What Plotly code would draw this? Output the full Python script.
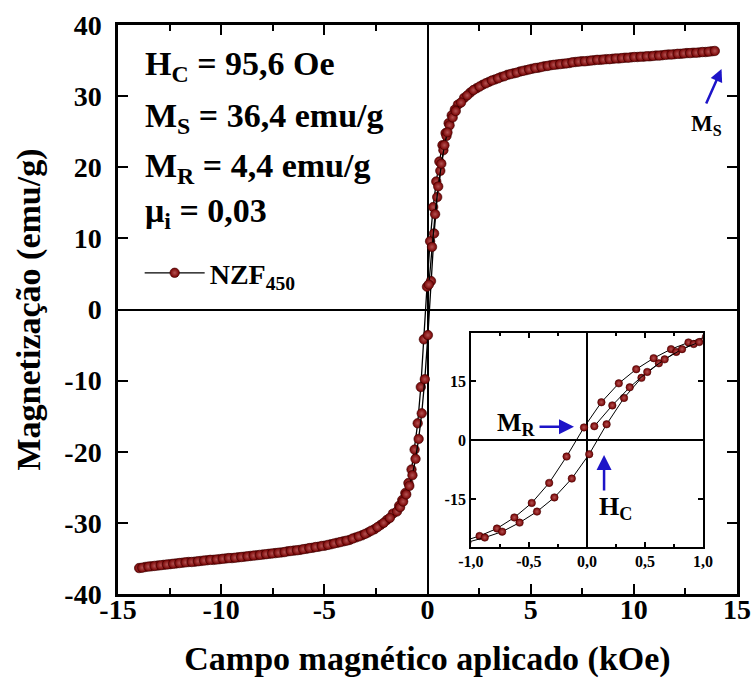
import plotly.graph_objects as go

# Hysteresis loop of NZF450: descending branch (+H -> -H), ascending branch (-H -> +H)
# and the first points of the initial magnetization curve.  Field in kOe, M in emu/g.
field_desc = [
    13.775, 13.475, 13.175, 12.875, 12.575, 12.275, 11.975, 11.675, 11.375, 11.075,
    10.775, 10.475, 10.175, 9.875, 9.575, 9.275, 8.975, 8.675, 8.375, 8.075,
    7.775, 7.475, 7.175, 6.875, 6.575, 6.275, 5.975, 5.675, 5.375, 5.075,
    4.775, 4.475, 4.175, 3.875, 3.575, 3.275, 2.975, 2.675, 2.375, 2.075, 1.775,
    1.475, 1.325, 1.175, 1.025, 0.875, 0.725, 0.575, 0.425, 0.275, 0.125,
    -0.025, -0.175, -0.325, -0.475, -0.625, -0.775, -0.925, -1.075, -1.225, -1.375,
    -1.675, -1.975, -2.275, -2.575, -2.875, -3.175, -3.475, -3.775, -4.075, -4.375,
    -4.675, -4.975, -5.275, -5.575, -5.875, -6.175, -6.475, -6.775, -7.075, -7.375,
    -7.675, -7.975, -8.275, -8.575, -8.875, -9.175, -9.475, -9.775, -10.075, -10.375,
    -10.675, -10.975, -11.275, -11.575, -11.875, -12.175, -12.475, -12.775, -13.075,
    -13.375, -13.675, -13.975,
]
magn_desc = [
    36.3, 36.2, 36.15, 36.1, 36.05, 35.95, 35.9, 35.85, 35.75, 35.7,
    35.6, 35.55, 35.5, 35.45, 35.4, 35.3, 35.25, 35.2, 35.1, 35.05,
    34.95, 34.9, 34.8, 34.65, 34.55, 34.45, 34.35, 34.2, 34.0, 33.85,
    33.65, 33.45, 33.2, 33.0, 32.7, 32.35, 32.0, 31.6, 31.1, 30.5, 29.75,
    28.8, 28.1, 27.3, 26.2, 24.8, 23.1, 20.8, 18.0, 14.4, 9.6,
    3.2, -4.2, -10.9, -16.0, -19.7, -22.5, -24.4, -25.8, -26.8, -27.6,
    -28.7, -29.6, -30.3, -30.9, -31.35, -31.75, -32.05, -32.4, -32.6, -32.8,
    -33.0, -33.2, -33.35, -33.5, -33.65, -33.8, -33.9, -34.0, -34.15, -34.25,
    -34.35, -34.45, -34.55, -34.65, -34.75, -34.85, -34.95, -35.0, -35.1, -35.2,
    -35.25, -35.35, -35.45, -35.5, -35.6, -35.7, -35.8, -35.9, -36.0,
    -36.1, -36.2, -36.35,
]
field_asc = [
    -13.825, -13.525, -13.225, -12.925, -12.625, -12.325, -12.025, -11.725, -11.425, -11.125,
    -10.825, -10.525, -10.225, -9.925, -9.625, -9.325, -9.025, -8.725, -8.425, -8.125,
    -7.825, -7.525, -7.225, -6.925, -6.625, -6.325, -6.025, -5.725, -5.425, -5.125,
    -4.825, -4.525, -4.225, -3.925, -3.625, -3.325, -3.025, -2.725, -2.425, -2.125, -1.825,
    -1.48, -1.33, -1.18, -1.03, -0.88, -0.73, -0.58, -0.43, -0.28, -0.13,
    0.02, 0.17, 0.32, 0.47, 0.62, 0.77, 0.92, 1.07, 1.22, 1.37,
    1.625, 1.925, 2.225, 2.525, 2.825, 3.125, 3.425, 3.725, 4.025, 4.325,
    4.625, 4.925, 5.225, 5.525, 5.825, 6.125, 6.425, 6.725, 7.025, 7.325,
    7.625, 7.925, 8.225, 8.525, 8.825, 9.125, 9.425, 9.725, 10.025, 10.325,
    10.625, 10.925, 11.225, 11.525, 11.825, 12.125, 12.425, 12.725, 13.025,
    13.325, 13.625, 13.925,
]
magn_asc = [
    -36.3, -36.15, -36.05, -35.95, -35.85, -35.75, -35.65, -35.55, -35.5, -35.4,
    -35.3, -35.2, -35.15, -35.05, -34.95, -34.9, -34.8, -34.7, -34.6, -34.5,
    -34.4, -34.3, -34.2, -34.1, -33.95, -33.85, -33.7, -33.55, -33.4, -33.25,
    -33.1, -32.9, -32.7, -32.5, -32.2, -31.9, -31.55, -31.1, -30.6, -30.0, -29.3,
    -28.4, -27.8, -27.0, -26.0, -24.8, -23.3, -21.0, -18.2, -14.6, -9.8,
    -3.6, 4.0, 10.7, 15.8, 19.5, 22.4, 24.4, 25.9, 27.0, 27.9,
    29.1, 30.1, 30.85, 31.35, 31.8, 32.2, 32.5, 32.8, 33.1, 33.3,
    33.55, 33.75, 33.95, 34.1, 34.25, 34.4, 34.5, 34.6, 34.75, 34.85,
    34.9, 35.0, 35.1, 35.15, 35.2, 35.3, 35.35, 35.4, 35.5, 35.55,
    35.6, 35.65, 35.7, 35.8, 35.85, 35.95, 36.0, 36.05, 36.1,
    36.2, 36.25, 36.35,
]
field_init = [0.064, 0.219, 0.369, 0.52, 0.67, 0.82, 0.968]
magn_init = [3.5, 8.8, 13.4, 17.3, 20.5, 23.1, 24.9]

# Axis ticks (hyphen minus and decimal comma as printed)
x_ticks = [-15, -10, -5, 0, 5, 10, 15]
x_tick_text = ["-15", "-10", "-5", "0", "5", "10", "15"]
x_minor = [-12.5, -7.5, -2.5, 2.5, 7.5, 12.5]
y_ticks = [-40, -30, -20, -10, 0, 10, 20, 30, 40]
y_tick_text = ["-40", "-30", "-20", "-10", "0", "10", "20", "30", "40"]
inset_x_ticks = [-1.0, -0.5, 0.0, 0.5, 1.0]
inset_x_text = ["-1,0", "-0,5", "0,0", "0,5", "1,0"]
inset_x_minor = [-0.75, -0.25, 0.25, 0.75]
inset_y_ticks = [-15, 0, 15]
inset_y_text = ["-15", "0", "15"]

# Loop parameters printed on the chart
coercive_field = "95,6 Oe"
saturation = "36,4 emu/g"
remanence = "4,4 emu/g"
permeability = "0,03"

SERIF = "Liberation Serif"
BEAD = "#760000"
BEAD_EDGE = "#3a0000"
BEAD_SHINE = "#b45252"
ARROW = "#1d14c8"

fig = go.Figure()

branches = [(field_desc, magn_desc), (field_asc, magn_asc), (field_init, magn_init)]

for i, (hx, my) in enumerate(branches):
    fig.add_trace(go.Scatter(
        x=hx, y=my, mode="lines+markers",
        name="NZF<sub>450</sub>", showlegend=(i == 0),
        line=dict(color="black", width=1.3),
        marker=dict(size=9.5, color=BEAD, line=dict(color=BEAD_EDGE, width=0.6),
                    gradient=dict(type="radial", color=BEAD_SHINE)),
        xaxis="x", yaxis="y",
    ))

for hx, my in branches:
    fig.add_trace(go.Scatter(
        x=hx, y=my, mode="lines+markers", showlegend=False,
        line=dict(color="black", width=1),
        marker=dict(size=7.5, color=BEAD, line=dict(color=BEAD_EDGE, width=0.5),
                    gradient=dict(type="radial", color=BEAD_SHINE)),
        xaxis="x2", yaxis="y2",
    ))

axis_common = dict(
    showline=True, linecolor="black", mirror="ticks", showgrid=False,
    ticks="inside", tickcolor="black", zeroline=True, zerolinecolor="black",
    automargin=False,
)

fig.update_layout(
    width=752, height=680,
    margin=dict(l=118, r=15, t=25, b=86),
    paper_bgcolor="white", plot_bgcolor="white",
    font=dict(family=SERIF, color="black"),
    separators=", ",
    xaxis=dict(
        axis_common, range=[-15, 15], tickvals=x_ticks, ticktext=x_tick_text,
        ticklen=10, tickwidth=2, linewidth=2.5, zerolinewidth=2,
        minor=dict(tickvals=x_minor, ticks="inside", ticklen=6, tickwidth=2, tickcolor="black"),
        tickfont=dict(size=28, weight="bold"), ticklabelstandoff=-11,
        title=dict(text="Campo magnético aplicado (kOe)", font=dict(size=34, weight="bold"), standoff=22),
    ),
    yaxis=dict(
        axis_common, range=[-40, 40], tickvals=y_ticks, ticktext=y_tick_text,
        ticklen=10, tickwidth=2, linewidth=2.5, zerolinewidth=2,
        tickfont=dict(size=28, weight="bold"), ticklabelstandoff=8,
        title=dict(text="Magnetização (emu/g)", font=dict(size=34, weight="bold"), standoff=14),
    ),
    xaxis2=dict(
        axis_common, domain=[0.570, 0.945], anchor="y2", range=[-1, 1],
        tickvals=inset_x_ticks, ticktext=inset_x_text,
        ticklen=5, tickwidth=1.5, linewidth=1.5, zerolinewidth=1.5,
        minor=dict(tickvals=inset_x_minor, ticks="inside", ticklen=3, tickwidth=1.5, tickcolor="black"),
        tickfont=dict(size=16, weight="bold"), ticklabelstandoff=-1,
    ),
    yaxis2=dict(
        axis_common, domain=[0.0826, 0.4587], anchor="x2", range=[-27.2, 27.2],
        tickvals=inset_y_ticks, ticktext=inset_y_text,
        ticklen=5, tickwidth=1.5, linewidth=1.5, zerolinewidth=1.5,
        tickfont=dict(size=16, weight="bold"),
    ),
    legend=dict(
        x=0.035, y=0.564, xanchor="left", yanchor="middle",
        bgcolor="rgba(0,0,0,0)", itemwidth=60,
        font=dict(size=28, weight="bold", family=SERIF),
    ),
)

# Loop parameters, top-left
text_lines = [
    ("H<sub>C</sub> = " + coercive_field, 0.928),
    ("M<sub>S</sub> = " + saturation, 0.837),
    ("M<sub>R</sub> = " + remanence, 0.749),
    ("μ<sub>i</sub> = " + permeability, 0.669),
]
for txt, yy in text_lines:
    fig.add_annotation(
        text="<b>" + txt + "</b>", xref="paper", yref="paper", x=0.04, y=yy,
        xanchor="left", yanchor="middle", showarrow=False,
        font=dict(size=34, family=SERIF, color="black"),
    )

# Saturation marker at the end of the loop
fig.add_annotation(x=14.25, y=33.8, xref="x", yref="y", ax=-16, ay=36, text="",
                   showarrow=True, arrowhead=2, arrowsize=1.0, arrowwidth=2.5,
                   arrowcolor=ARROW, standoff=0)
fig.add_annotation(x=13.52, y=26.0, xref="x", yref="y", text="<b>M<sub>S</sub></b>",
                   showarrow=False, font=dict(size=23, family=SERIF, color="black"))

# Remanence and coercivity markers in the inset
fig.add_annotation(x=-0.111, y=3.38, xref="x2", yref="y2", ax=-36, ay=0, text="",
                   showarrow=True, arrowhead=2, arrowsize=1.2, arrowwidth=2.5,
                   arrowcolor=ARROW, standoff=0)
fig.add_annotation(x=-0.61, y=4.0, xref="x2", yref="y2", text="<b>M<sub>R</sub></b>",
                   showarrow=False, font=dict(size=26, family=SERIF, color="black"))
fig.add_annotation(x=0.148, y=-3.81, xref="x2", yref="y2", ax=0, ay=37, text="",
                   showarrow=True, arrowhead=2, arrowsize=1.2, arrowwidth=2.5,
                   arrowcolor=ARROW, standoff=0)
fig.add_annotation(x=0.25, y=-17.2, xref="x2", yref="y2", text="<b>H<sub>C</sub></b>",
                   showarrow=False, font=dict(size=26, family=SERIF, color="black"))

fig.write_html("out.html")
